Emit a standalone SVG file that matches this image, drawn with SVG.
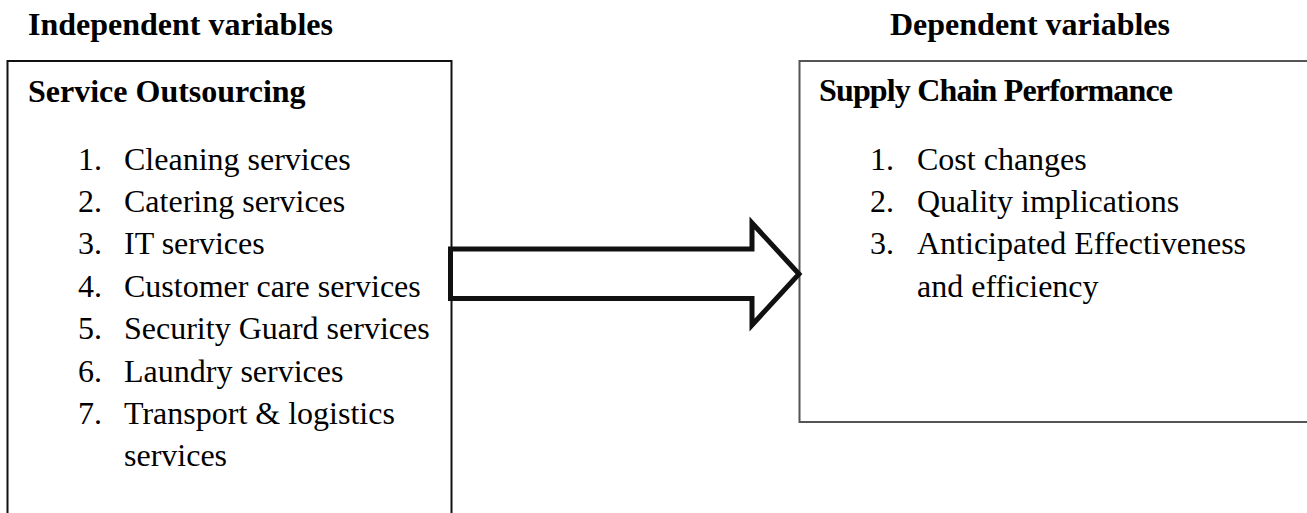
<svg xmlns="http://www.w3.org/2000/svg" width="1307" height="513" viewBox="0 0 1307 513">
<style>
text{font-family:"Liberation Serif","Times New Roman",serif;font-size:32px;fill:#000}
.b{font-weight:bold}
.box{fill:#fff;stroke-width:2}
</style>
<rect width="1307" height="513" fill="#fff"/>
<text class="b" x="28" y="35">Independent variables</text>
<text class="b" x="1170" y="35" text-anchor="end">Dependent variables</text>
<g id="service-outsourcing">
<rect class="box" x="7.5" y="61" width="444" height="470" stroke="#111"/>
<text class="b" x="28" y="102">Service Outsourcing</text>
<text x="78" y="169.5">1.</text><text x="124" y="169.5">Cleaning services</text>
<text x="78" y="211.9">2.</text><text x="124" y="211.9">Catering services</text>
<text x="78" y="254.3">3.</text><text x="124" y="254.3">IT services</text>
<text x="78" y="296.7">4.</text><text x="124" y="296.7">Customer care services</text>
<text x="78" y="339.1">5.</text><text x="124" y="339.1">Security Guard services</text>
<text x="78" y="381.5">6.</text><text x="124" y="381.5">Laundry services</text>
<text x="78" y="423.9">7.</text><text x="124" y="423.9">Transport &amp; logistics</text>
<text x="124" y="466.3">services</text>
</g>
<g id="supply-chain-performance">
<rect class="box" x="799.5" y="61" width="530" height="361" stroke="#555"/>
<text class="b" x="819" y="101" textLength="354" lengthAdjust="spacing">Supply Chain Performance</text>
<text x="870" y="169.5">1.</text><text x="917" y="169.5">Cost changes</text>
<text x="870" y="211.9">2.</text><text x="917" y="211.9">Quality implications</text>
<text x="870" y="254.3">3.</text><text x="917" y="254.3">Anticipated Effectiveness</text>
<text x="917" y="296.7">and efficiency</text>
</g>
<g id="connectors">
<path d="M450.5 249 H752 V223 L799 274 L752 325 V298.5 H450.5 Z" fill="#fff" stroke="#111" stroke-width="5" stroke-miterlimit="10"/>
</g>
</svg>
